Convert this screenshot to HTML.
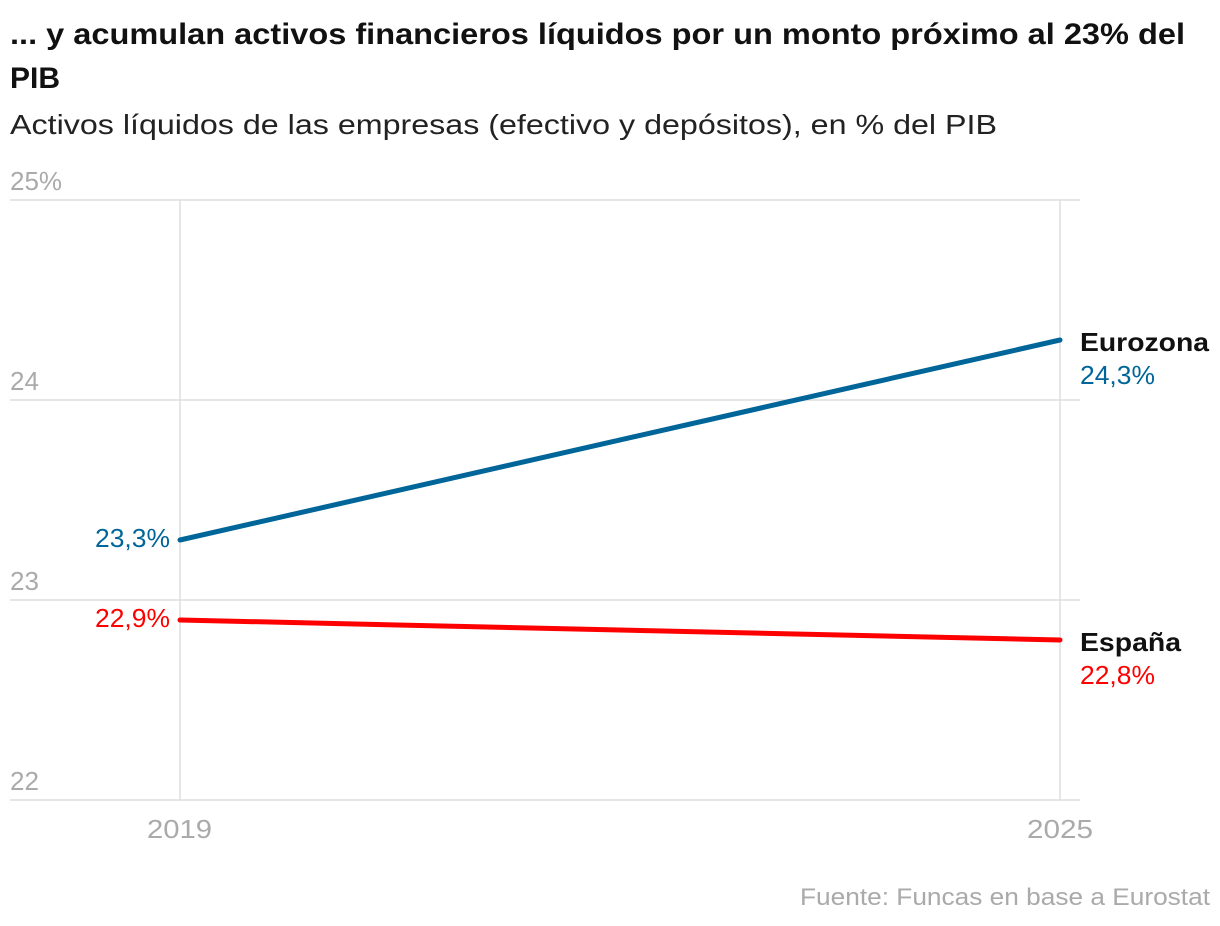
<!DOCTYPE html>
<html><head><meta charset="utf-8"><style>
body{margin:0;background:#fff;}
svg{display:block;font-family:"Liberation Sans",sans-serif;}
</style></head><body>
<svg width="1220" height="926" viewBox="0 0 1220 926">
<text x="10" y="44" font-size="30" font-weight="bold" fill="#111" textLength="1175" lengthAdjust="spacingAndGlyphs">... y acumulan activos financieros líquidos por un monto próximo al 23% del</text>
<text x="10" y="88" font-size="30" font-weight="bold" fill="#111">PIB</text>
<text x="10" y="134" font-size="28" fill="#222" textLength="987" lengthAdjust="spacingAndGlyphs">Activos líquidos de las empresas (efectivo y depósitos), en % del PIB</text>
<g stroke="#dddddd" stroke-width="1.5">
<line x1="10" y1="200" x2="1080" y2="200"/>
<line x1="10" y1="400" x2="1080" y2="400"/>
<line x1="10" y1="600" x2="1080" y2="600"/>
<line x1="10" y1="800" x2="1080" y2="800"/>
<line x1="180" y1="200" x2="180" y2="800"/>
<line x1="1060" y1="200" x2="1060" y2="800"/>
</g>
<g font-size="26" fill="#aaaaaa">
<text x="10" y="190">25%</text>
<text x="10" y="390">24</text>
<text x="10" y="590">23</text>
<text x="10" y="790">22</text>
<text x="147" y="838" textLength="65" lengthAdjust="spacingAndGlyphs">2019</text>
<text x="1027" y="838" textLength="66" lengthAdjust="spacingAndGlyphs">2025</text>
<text x="800" y="905" font-size="24" textLength="410" lengthAdjust="spacingAndGlyphs">Fuente: Funcas en base a Eurostat</text>
</g>
<line x1="180" y1="540" x2="1060" y2="340" stroke="#006699" stroke-width="5" stroke-linecap="round"/>
<line x1="180" y1="620" x2="1060" y2="640" stroke="#ff0000" stroke-width="5" stroke-linecap="round"/>
<g font-size="26">
<text x="95" y="547" fill="#006699" textLength="75" lengthAdjust="spacingAndGlyphs">23,3%</text>
<text x="95" y="627" fill="#ff0000" textLength="75" lengthAdjust="spacingAndGlyphs">22,9%</text>
<text x="1080" y="351" font-weight="bold" fill="#111" textLength="129" lengthAdjust="spacingAndGlyphs">Eurozona</text>
<text x="1080" y="384" fill="#006699" textLength="75" lengthAdjust="spacingAndGlyphs">24,3%</text>
<text x="1080" y="651" font-weight="bold" fill="#111" textLength="101" lengthAdjust="spacingAndGlyphs">España</text>
<text x="1080" y="684" fill="#ff0000" textLength="75" lengthAdjust="spacingAndGlyphs">22,8%</text>
</g>
</svg>
</body></html>
